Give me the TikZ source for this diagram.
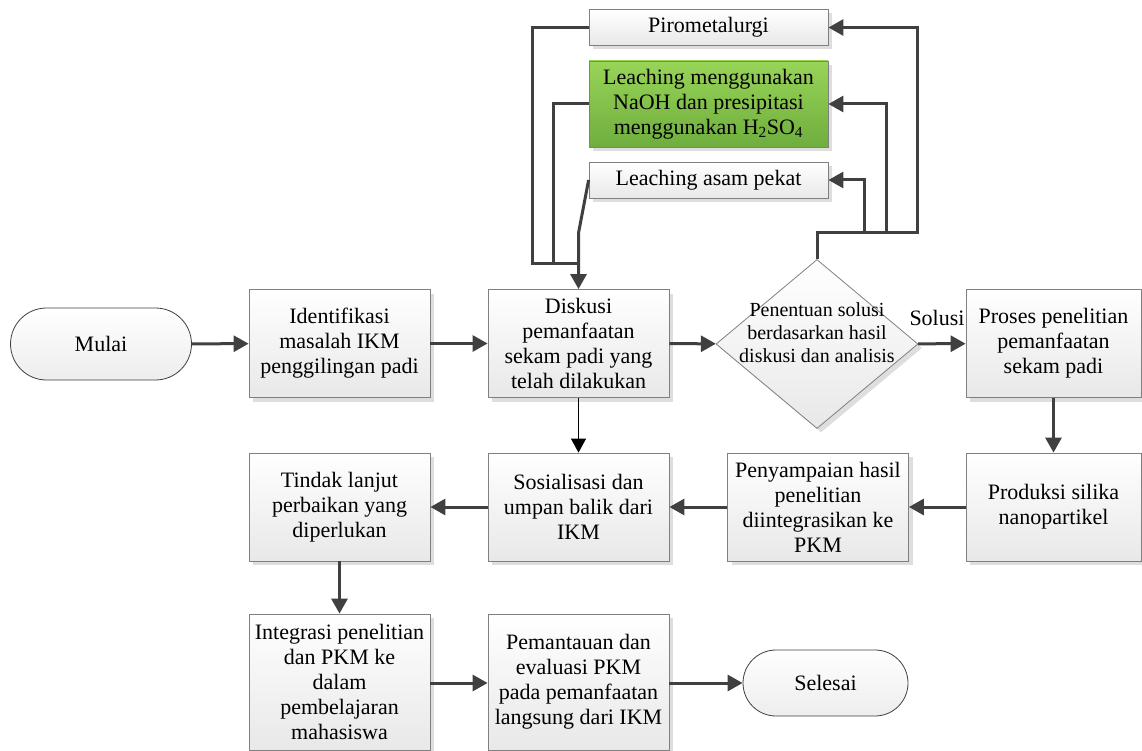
\documentclass[tikz,border=0pt]{standalone}
\usepackage{fontspec}
\setmainfont{Liberation Serif}
\usetikzlibrary{arrows.meta,shapes.misc,shapes.geometric,shadows}
\definecolor{lnc}{HTML}{404040}
\definecolor{bdc}{HTML}{808080}
\definecolor{shc}{HTML}{DEDEDE}
\definecolor{gtop}{HTML}{98D458}
\definecolor{gbot}{HTML}{6FAE3E}
\tikzset{
  txt/.style={font=\fontsize{22}{25}\selectfont, align=center},
  pbox/.style={txt, draw=bdc, line width=0.8pt, shading=axis, top color=white, bottom color=black!9,
     inner sep=0pt, minimum width=181pt, minimum height=108pt,
     drop shadow={shadow xshift=4pt, shadow yshift=-4pt, fill=shc, opacity=1}},
  tbox/.style={pbox, minimum width=239pt},
  term/.style={txt, rounded rectangle, draw=lnc, line width=0.8pt, shading=axis, top color=white, bottom color=black!7, inner sep=0pt},
  ln/.style={draw=lnc, line width=3pt},
  arr/.style={ln, -{Triangle[length=15pt,width=16pt]}},
  thin/.style={draw=black, line width=1pt, -{Triangle[length=14pt,width=15pt]}}
}
\begin{document}
\begin{tikzpicture}[x=1pt,y=-1pt]
\useasboundingbox (0,0) rectangle (1142,751);
% row 1
\node[term, minimum width=181pt, minimum height=72pt] (mulai) at (101,344) {Mulai};
\node[pbox] (ident) at (339.5,343.5) {Identifikasi\\masalah IKM\\penggilingan padi};
\node[pbox] (disk) at (578.5,343.5) {Diskusi\\pemanfaatan\\sekam padi yang\\telah dilakukan};
\node[diamond, draw=bdc, line width=0.8pt, shading=axis, top color=white, bottom color=black!9,
      minimum width=202pt, minimum height=169pt, inner sep=0pt,
      drop shadow={shadow xshift=4pt, shadow yshift=-4pt, fill=shc, opacity=1}] (dia) at (817,344) {};
\node[font=\fontsize{20}{23}\selectfont, align=center] (diat) at (817,333) {Penentuan solusi\\berdasarkan hasil\\diskusi dan analisis};
\node[pbox, minimum width=175pt] (proses) at (1053.5,343.5) {Proses penelitian\\pemanfaatan\\sekam padi};
\node[txt, inner sep=0pt] (sol) at (937,318) {Solusi};
% row 2
\node[pbox, minimum width=175pt] (prod) at (1053.5,507) {Produksi silika\\nanopartikel};
\node[pbox] (peny) at (818,507) {Penyampaian hasil\\penelitian\\diintegrasikan ke\\PKM};
\node[pbox] (sos) at (578.5,507) {Sosialisasi dan\\umpan balik dari\\IKM};
\node[pbox] (tind) at (339.5,507) {Tindak lanjut\\perbaikan yang\\diperlukan};
% row 3
\node[pbox, minimum height=136pt] (integ) at (339.5,682) {Integrasi penelitian\\dan PKM ke\\dalam\\pembelajaran\\mahasiswa};
\node[pbox, minimum height=136pt] (pem) at (578.5,682) {Pemantauan dan\\evaluasi PKM\\pada pemanfaatan\\langsung dari IKM};
\node[term, minimum width=165pt, minimum height=66pt] (sel) at (825.5,683) {Selesai};
% top
\node[tbox, minimum height=36pt] (piro) at (708.5,27.5) {Pirometalurgi};
\node[tbox, minimum height=86pt, shading=axis, top color=gtop, bottom color=gbot] (naoh) at (708.5,104) {Leaching menggunakan\\NaOH dan presipitasi\\menggunakan H\textsubscript{2}SO\textsubscript{4}};
\node[tbox, minimum height=36pt] (asam) at (708.5,180) {Leaching asam pekat};
% coordinates
\coordinate (r1) at (917,233);
\coordinate (r2) at (886,233);
\coordinate (r3) at (864,233);
\coordinate (l1) at (532,263);
\coordinate (l2) at (553,263);
\coordinate (lm) at (578.5,263);
\coordinate (la) at (578.5,233);
% connectors
\draw[arr] (mulai) -- (ident);
\draw[arr] (ident) -- (disk);
\draw[arr] (disk) -- (dia);
\draw[arr] (dia) -- (proses);
\draw[arr] (proses) -- (prod);
\draw[arr] (prod) -- (peny);
\draw[arr] (peny) -- (sos);
\draw[arr] (sos) -- (tind);
\draw[thin] (disk) -- (sos);
\draw[arr] (tind) -- (integ);
\draw[arr] (integ.east |- sel) -- (pem.west |- sel);
\draw[arr] (pem.east |- sel) -- (sel);
\draw[arr] (dia.north) |- (r1) |- (piro.east);
\draw[arr] (r2) |- (naoh.east);
\draw[arr] (r3) |- (asam.east);
\draw[ln] (piro.west) -| (l1) -- (lm);
\draw[ln] (naoh.west) -| (l2);
\draw[arr] (asam.west) -- (la) -- (disk.north);
\end{tikzpicture}
\end{document}
